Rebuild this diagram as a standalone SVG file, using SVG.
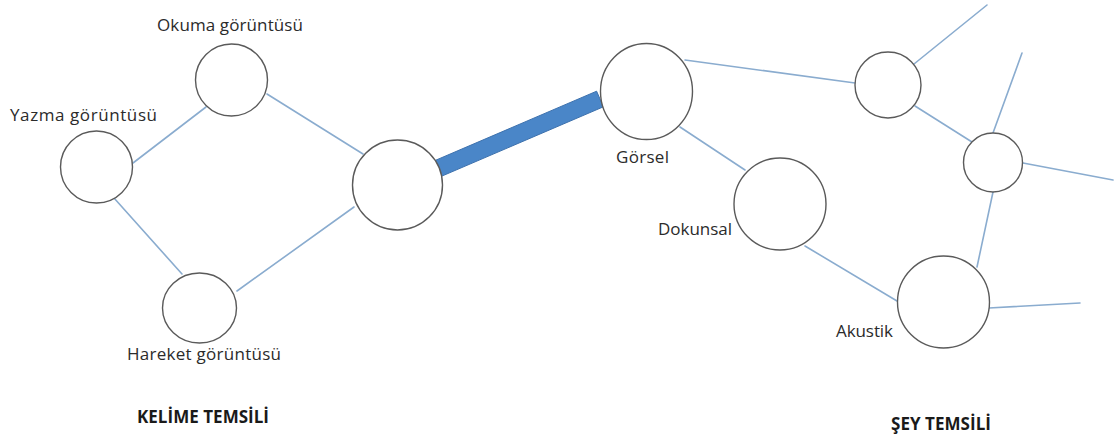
<svg xmlns="http://www.w3.org/2000/svg" width="1118" height="439" viewBox="0 0 1118 439">
<style>
.c{fill:#ffffff;stroke:#5a5a5a;stroke-width:1.4}
.e{stroke:#8aaccf;stroke-width:1.6;fill:none;stroke-linecap:round}
.t{font-family:"Open Sans","Liberation Sans",sans-serif;font-size:17px;fill:#2b2b2b}
.h{font-family:"Open Sans","Liberation Sans",sans-serif;font-size:17px;font-weight:bold;fill:#1a1a1a}
</style>
<rect width="1118" height="439" fill="#ffffff"/>
<g id="connectors">
<line class="e" x1="206" y1="107" x2="133" y2="163"/>
<line class="e" x1="267" y1="94" x2="363" y2="154"/>
<line class="e" x1="114" y1="198" x2="182" y2="274"/>
<line class="e" x1="237" y1="291" x2="354" y2="207"/>
<polygon points="434.6,160.7 441.4,176.3 603.4,106.8 596.6,91.2" fill="#4a86c8" stroke="#3d71ad" stroke-width="1"/>
<line class="e" x1="685" y1="60" x2="855" y2="83"/>
<line class="e" x1="680" y1="127" x2="745" y2="170"/>
<line class="e" x1="914" y1="64" x2="987" y2="5"/>
<line class="e" x1="915" y1="106" x2="972" y2="142"/>
<line class="e" x1="993" y1="133" x2="1022" y2="53"/>
<line class="e" x1="1023" y1="163" x2="1113" y2="180"/>
<line class="e" x1="993" y1="192" x2="977" y2="267"/>
<line class="e" x1="805" y1="246" x2="897" y2="301"/>
<line class="e" x1="989" y1="308" x2="1080" y2="303"/>
</g>
<g id="okuma">
<circle class="c" cx="231.5" cy="80" r="36"/>
<text class="t" x="157" y="31" textLength="146">Okuma görüntüsü</text>
</g>
<g id="yazma">
<circle class="c" cx="96.5" cy="167" r="36"/>
<text class="t" x="10" y="121" textLength="147">Yazma görüntüsü</text>
</g>
<g id="hareket">
<ellipse class="c" cx="199.5" cy="308" rx="37" ry="35"/>
<text class="t" x="127" y="360" textLength="154">Hareket görüntüsü</text>
</g>
<g id="kelime-merkez">
<circle class="c" cx="397.5" cy="185" r="45"/>
</g>
<g id="gorsel">
<ellipse class="c" cx="646.5" cy="91.5" rx="46" ry="48"/>
<text class="t" x="616" y="163" textLength="53">Görsel</text>
</g>
<g id="dokunsal">
<circle class="c" cx="780" cy="204" r="46"/>
<text class="t" x="658" y="235" textLength="74">Dokunsal</text>
</g>
<g id="akustik">
<circle class="c" cx="943.5" cy="302" r="46"/>
<text class="t" x="836" y="337" textLength="57">Akustik</text>
</g>
<g id="dugum-ust">
<circle class="c" cx="888" cy="85" r="33"/>
</g>
<g id="dugum-sag">
<circle class="c" cx="993" cy="162.5" r="29.5"/>
</g>
<g id="baslik-kelime">
<text class="h" x="137" y="423" textLength="132">KELİME TEMSİLİ</text>
</g>
<g id="baslik-sey">
<text class="h" x="891" y="430" textLength="100">ŞEY TEMSİLİ</text>
</g>
</svg>
